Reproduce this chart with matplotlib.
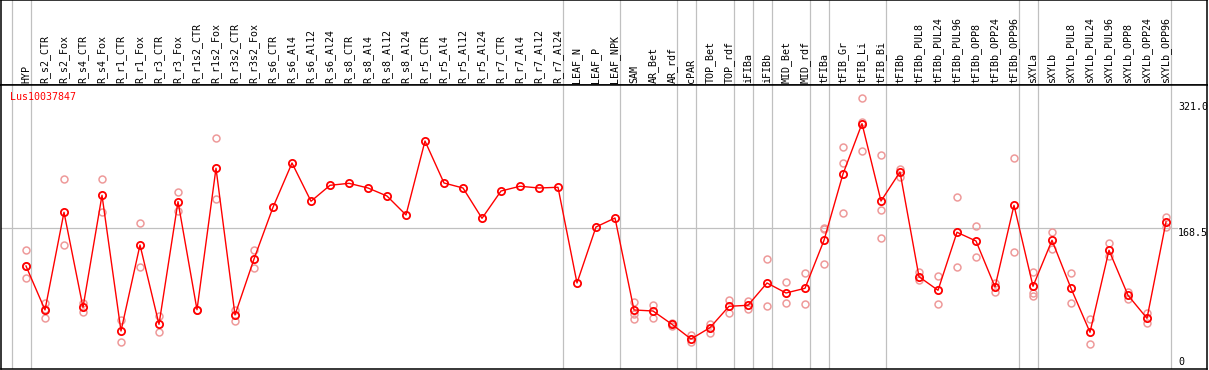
import matplotlib
matplotlib.use("Agg")
import matplotlib.pyplot as plt

# sample names (columns of the expression chart)
samples = ["HYP", "R_s2_CTR", "R_s2_Fox", "R_s4_CTR", "R_s4_Fox", "R_r1_CTR", "R_r1_Fox",
           "R_r3_CTR", "R_r3_Fox", "R_r1s2_CTR", "R_r1s2_Fox", "R_r3s2_CTR", "R_r3s2_Fox",
           "R_s6_CTR", "R_s6_Al4", "R_s6_Al12", "R_s6_Al24", "R_s8_CTR", "R_s8_Al4",
           "R_s8_Al12", "R_s8_Al24", "R_r5_CTR", "R_r5_Al4", "R_r5_Al12", "R_r5_Al24",
           "R_r7_CTR", "R_r7_Al4", "R_r7_Al12", "R_r7_Al24", "LEAF_N", "LEAF_P", "LEAF_NPK",
           "SAM", "AR_Bet", "AR_rdf", "cPAR", "TOP_Bet", "TOP_rdf", "iFIBa", "iFIBb",
           "MID_Bet", "MID_rdf", "tFIBa", "tFIB_Gr", "tFIB_Li", "tFIB_Bi", "tFIBb",
           "tFIBb_PUL8", "tFIBb_PUL24", "tFIBb_PUL96", "tFIBb_OPP8", "tFIBb_OPP24",
           "tFIBb_OPP96", "sXYLa", "sXYLb", "sXYLb_PUL8", "sXYLb_PUL24", "sXYLb_PUL96",
           "sXYLb_OPP8", "sXYLb_OPP24", "sXYLb_OPP96"]

# mean expression per sample
means = [120.6, 65.2, 188.3, 68.5, 209.7, 38.7, 147.1, 47.1, 201.7, 65.5, 243.8, 58.9, 129.4,
         194.6, 250.4, 202.2, 222.3, 224.8, 218.9, 208.8, 184.9, 278.1, 225.2, 218.9, 180.7,
         215.1, 221.1, 218.9, 219.8, 99.2, 169.8, 181.1,
         65.2, 63.9, 47.1, 28.6, 42.9, 69.8, 71.1, 99.2, 86.6, 92.5, 153.0, 236.6, 300.0,
         202.5, 239.1, 107.1, 90.0, 163.1, 152.1, 94.2, 197.1, 95.0, 153.0, 92.5, 37.1,
         140.4, 83.7, 54.7, 176.1]

# individual replicates (empty where only the mean is shown)
replicates = [[140.4, 120.0, 105.1], [74.4, 55.5, 66.0], [229.9, 146.7], [74.4, 63.0],
              [229.9, 188.3], [52.6, 24.4], [174.4, 119.7], [57.6, 37.1], [213.5, 189.9],
              [65.5], [281.6, 205.4], [65.2, 51.7], [140.4, 117.7],
              [], [], [], [], [], [], [], [], [], [], [], [], [], [], [], [], [], [], [],
              [74.9, 60.1, 53.4], [71.5, 55.5], [49.0, 45.0], [33.6, 24.4], [47.9, 36.6],
              [77.8, 61.0], [76.5, 66.8], [129.4, 70.2], [100.1, 74.0], [111.8, 72.7],
              [168.5, 166.8, 123.5], [270.2, 250.4, 187.0], [332.0, 302.5, 265.2],
              [260.2, 190.8, 155.5], [242.5, 233.2], [113.4, 103.0], [107.6, 72.3],
              [207.2, 119.4], [170.7, 132.0], [99.6, 88.2], [256.4, 137.9],
              [112.7, 87.0, 83.2], [163.1, 142.4], [111.4, 74.0], [53.4, 21.9],
              [149.2, 132.8], [88.0, 78.6], [61.8, 48.4], [182.4, 170.2]]

# group separators drawn after these sample indices
separators = [-1, 0, 28, 31, 34, 35, 37, 38, 39, 41, 42, 45, 52, 53, 60]

gene = "Lus10037847"
y_ticks = [321.0, 168.5, 0]

W, H = 1209, 370
fig = plt.figure(figsize=(W / 100, H / 100), dpi=100)
mono = "DejaVu Sans Mono"
fs = 7.2

xlim = (-25 / 19, -25 / 19 + 1206 / 19)

head = fig.add_axes([1 / W, (H - 85) / H, 1206 / W, 85 / H])
ax = fig.add_axes([1 / W, 1 / H, 1206 / W, 284 / H])

for a in (head, ax):
    a.set_xlim(*xlim)
    a.set_xticks([])
    a.set_yticks([])
    for s in a.spines.values():
        s.set_color("black")
        s.set_linewidth(1.1)
    for sep in separators:
        a.axvline(sep + 0.25, color="#c0c0c0", lw=0.9, zorder=0)

head.set_ylim(0, 85)
for i, name in enumerate(samples):
    head.text(i, 2.3, name, rotation=90, ha="center", va="bottom",
              family=mono, fontsize=fs, color="black")

ax.set_ylim(-9.2, 348.7)
ax.axhline(168.5, xmin=0, xmax=1176 / 1206, color="#c0c0c0", lw=0.9, zorder=0)

x = list(range(len(samples)))
for i, reps in enumerate(replicates):
    if reps:
        ax.plot([i] * len(reps), reps, linestyle="none", marker="o", ms=5.0,
                mfc="none", mec="#ee9a9a", mew=1.1, zorder=2)

ax.plot(x, means, color="red", lw=1.0, marker="o", ms=5.2, mfc="none",
        mec="red", mew=1.3, zorder=3)

ax.text(9 / 19 + xlim[0], 333.6, gene, color="red", family=mono, fontsize=fs,
        ha="left", va="center")

xt = xlim[0] + 1177 / 19
ax.text(xt, y_ticks[0], f"{y_ticks[0]:.1f}", family=mono, fontsize=fs, ha="left", va="center")
ax.text(xt, y_ticks[1], f"{y_ticks[1]:.1f}", family=mono, fontsize=fs, ha="left", va="top")
ax.text(xt, y_ticks[2], f"{y_ticks[2]:d}", family=mono, fontsize=fs, ha="left", va="center")

fig.savefig("out.png", dpi=100)
